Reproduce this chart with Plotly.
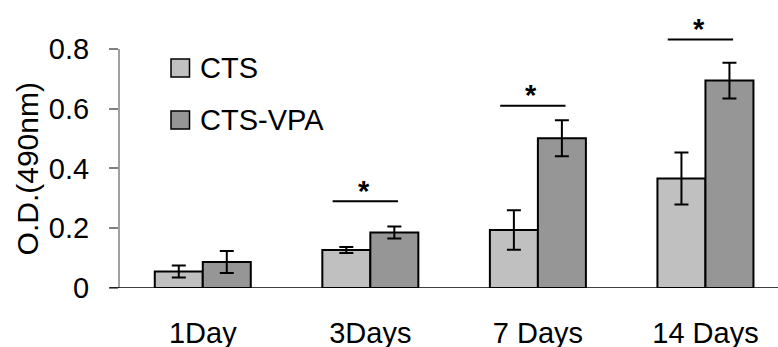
import plotly.graph_objects as go

categories = ["1Day", "3Days", "7 Days", "14 Days"]
cts = [0.055, 0.127, 0.194, 0.366]
cts_err = [0.020, 0.010, 0.066, 0.087]
vpa = [0.087, 0.186, 0.501, 0.694]
vpa_err = [0.037, 0.020, 0.060, 0.060]
sig_idx = [1, 2, 3]
sig_y = [0.29, 0.61, 0.831]
ytick_vals = [0, 0.2, 0.4, 0.6, 0.8]
ytick_text = ["0", "0.2", "0.4", "0.6", "0.8"]

FONT = "Liberation Sans, Arial, sans-serif"
C1 = "#c0c0c0"
C2 = "#969696"

fig = go.Figure()
fig.add_trace(go.Bar(x=categories, y=cts, name="CTS", marker=dict(color=C1, line=dict(color="black", width=2)),
                     error_y=dict(type="data", array=cts_err, color="black", thickness=2, width=7), showlegend=False))
fig.add_trace(go.Bar(x=categories, y=vpa, name="CTS-VPA", marker=dict(color=C2, line=dict(color="black", width=2)),
                     error_y=dict(type="data", array=vpa_err, color="black", thickness=2, width=7), showlegend=False))

shapes = []
annotations = []
for i, y in zip(sig_idx, sig_y):
    shapes.append(dict(type="line", xref="x", yref="y", x0=i - 0.225, x1=i + 0.165, y0=y, y1=y,
                       line=dict(color="black", width=2)))
    annotations.append(dict(x=i - 0.04, y=y + 0.036, xref="x", yref="y", text="<b>*</b>", showarrow=False,
                            font=dict(size=29, color="black", family=FONT), yanchor="middle"))

# axis lines
shapes.append(dict(type="line", xref="paper", yref="y", x0=0, x1=0, y0=0, y1=0.8,
                   line=dict(color="#808080", width=1.5)))
shapes.append(dict(type="line", xref="paper", yref="y", x0=-0.0144, x1=1, y0=0, y1=0,
                   line=dict(color="black", width=1.5)))

# y axis title (centred on the 0-0.8 span)
annotations.append(dict(x=-92 / 659, y=0.4, xref="paper", yref="y", text="O.D.(490nm)", textangle=-90,
                        showarrow=False, xanchor="center", yanchor="middle",
                        font=dict(size=30, color="black", family=FONT)))

# legend
for k, (name, col) in enumerate([("CTS", C1), ("CTS-VPA", C2)]):
    yc = 68 + 52 * k
    shapes.append(dict(type="rect", xref="paper", yref="paper",
                       x0=(171 - 119) / 659, x1=(189.5 - 119) / 659,
                       y0=(288 - (yc - 9)) / 269, y1=(288 - (yc + 9)) / 269,
                       fillcolor=col, line=dict(color="black", width=1.5)))
    annotations.append(dict(x=(198 - 119) / 659, y=(288 - yc) / 269, xref="paper", yref="paper",
                            text=name, showarrow=False, xanchor="left", yanchor="middle",
                            font=dict(size=29, color="black", family=FONT)))

fig.update_layout(
    width=778, height=347,
    margin=dict(l=119, r=0, t=19, b=59),
    paper_bgcolor="white", plot_bgcolor="white",
    barmode="group", bargap=0.427, bargroupgap=0,
    font=dict(family=FONT, size=29, color="black"),
    shapes=shapes, annotations=annotations,
    xaxis=dict(range=[-0.5, 3.433], showline=False, showgrid=False, zeroline=False, ticks="",
               automargin=False,
               tickfont=dict(size=29, family=FONT, color="black"), ticklabelstandoff=25),
    yaxis=dict(range=[0, 0.9], showline=False, showgrid=False, zeroline=False, automargin=False,
               tickvals=ytick_vals, ticktext=ytick_text, ticks="outside", ticklen=9, tickwidth=1.5,
               tickcolor="#808080", tickfont=dict(size=29, family=FONT, color="black"),
               ticklabelstandoff=14),
)
fig.write_html("out.html")
